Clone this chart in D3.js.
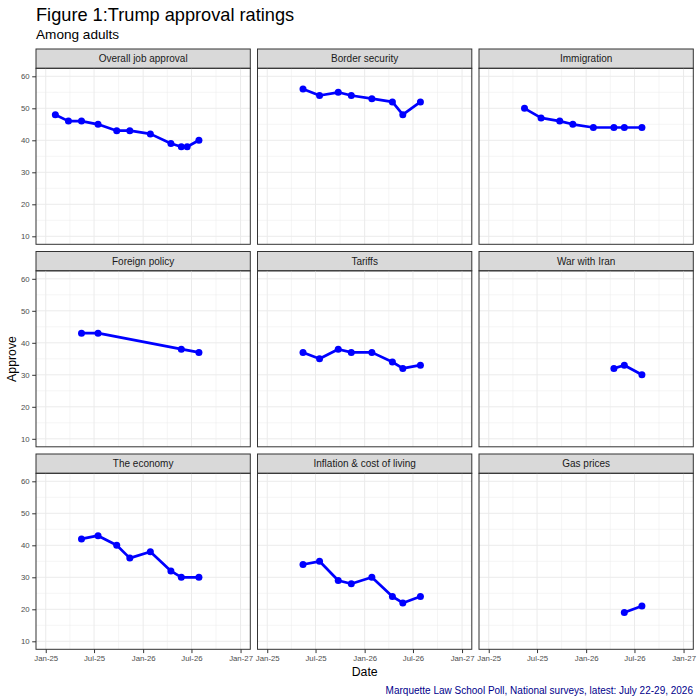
<!DOCTYPE html>
<html>
<head>
<meta charset="utf-8">
<script src="https://cdn.jsdelivr.net/npm/d3@7"></script>
<style>
  body { margin: 0; background: #fff; }
  text { font-family: "Liberation Sans", Arial, sans-serif; }
</style>
</head>
<body>
<div id="chart"></div>
<script>
const width = 700;
const height = 700;

// survey end dates (national surveys)
const surveyDates = [
  "2025-02-06", "2025-03-27", "2025-05-15", "2025-07-16", "2025-09-24",
  "2025-11-12", "2026-01-28", "2026-04-15", "2026-05-24", "2026-06-15",
  "2026-07-29"
];

const topics = [
  "Overall job approval", "Border security", "Immigration",
  "Foreign policy", "Tariffs", "War with Iran",
  "The economy", "Inflation & cost of living", "Gas prices"
];

// approve %, one per survey date (null = not asked)
const overall     = [48, 46, 46, 45, 43, 43, 42, 39, 38, 38, 40];
const border      = [null, null, 56, 54, 55, 54, 53, 52, 48, null, 52];
const immigration = [null, null, 50, 47, 46, 45, 44, 44, 44, null, 44];
const foreign     = [null, null, 43, 43, null, null, null, null, 38, null, 37];
const tariffs     = [null, null, 37, 35, 38, 37, 37, 34, 32, null, 33];
const iran        = [null, null, null, null, null, null, null, 32, 33, null, 30];
const economy     = [null, null, 42, 43, 40, 36, 38, 32, 30, null, 30];
const inflation   = [null, null, 34, 35, 29, 28, 30, 24, 22, null, 24];
const gas         = [null, null, null, null, null, null, null, null, 19, null, 21];

const seriesValues = [overall, border, immigration, foreign, tariffs, iran, economy, inflation, gas];

const xTickDates = ["2025-01-01", "2025-07-01", "2026-01-01", "2026-07-01", "2027-01-01"];
const yTicks = [10, 20, 30, 40, 50, 60];
const yMinor = [15, 25, 35, 45, 55];

const parse = d3.timeParse("%Y-%m-%d");
const fmt = d3.timeFormat("%b-%y");

// layout
const plotLeft = 36, plotTop = 49;
const panelW = 214.3, gap = 7.2;
const stripH = 19.3, panelH = 176;
const rowPitch = stripH + panelH + gap;

const svg = d3.select("#chart")
  .append("svg")
  .attr("width", width)
  .attr("height", height);

// scales, ggplot-style 5% expansion
const xLim = [parse(xTickDates[0]), parse(xTickDates[4])];
const xPad = (xLim[1] - xLim[0]) * 0.05;
const x = d3.scaleTime()
  .domain([new Date(+xLim[0] - xPad), new Date(+xLim[1] + xPad)])
  .range([0, panelW]);

const y = d3.scaleLinear()
  .domain([10 - 2.5, 60 + 2.5])
  .range([panelH, 0]);

const xMajor = xTickDates.map(parse);
const xMinorT = d3.pairs(xMajor).map(([a, b]) => new Date((+a + +b) / 2));

const line = d3.line()
  .x(d => x(d.date))
  .y(d => y(d.value));

topics.forEach((name, i) => {
  const col = i % 3, row = Math.floor(i / 3);
  const g = svg.append("g")
    .attr("transform", `translate(${plotLeft + col * (panelW + gap)},${plotTop + row * rowPitch})`);

  // strip
  g.append("rect")
    .attr("width", panelW).attr("height", stripH)
    .attr("fill", "#D9D9D9").attr("stroke", "#333333").attr("stroke-width", 1);
  g.append("text")
    .attr("x", panelW / 2).attr("y", stripH / 2 + 3.6)
    .attr("text-anchor", "middle")
    .attr("font-size", 10)
    .attr("fill", "#1A1A1A")
    .text(name);

  const p = g.append("g").attr("transform", `translate(0,${stripH})`);

  // grid
  p.selectAll(".ymin").data(yMinor).join("line")
    .attr("x1", 0).attr("x2", panelW)
    .attr("y1", d => y(d)).attr("y2", d => y(d))
    .attr("stroke", "#EBEBEB").attr("stroke-width", 0.5);
  p.selectAll(".xmin").data(xMinorT).join("line")
    .attr("y1", 0).attr("y2", panelH)
    .attr("x1", d => x(d)).attr("x2", d => x(d))
    .attr("stroke", "#EBEBEB").attr("stroke-width", 0.5);
  p.selectAll(".ymaj").data(yTicks).join("line")
    .attr("x1", 0).attr("x2", panelW)
    .attr("y1", d => y(d)).attr("y2", d => y(d))
    .attr("stroke", "#EBEBEB").attr("stroke-width", 1);
  p.selectAll(".xmaj").data(xMajor).join("line")
    .attr("y1", 0).attr("y2", panelH)
    .attr("x1", d => x(d)).attr("x2", d => x(d))
    .attr("stroke", "#EBEBEB").attr("stroke-width", 1);

  // data
  const pts = surveyDates
    .map((d, k) => ({ date: parse(d), value: seriesValues[i][k] }))
    .filter(d => d.value != null);

  p.append("path")
    .datum(pts)
    .attr("d", line)
    .attr("fill", "none")
    .attr("stroke", "#0000FF")
    .attr("stroke-width", 2.7)
    .attr("stroke-linejoin", "round");

  p.selectAll("circle").data(pts).join("circle")
    .attr("cx", d => x(d.date)).attr("cy", d => y(d.value))
    .attr("r", 3.5)
    .attr("fill", "#0000FF");

  // panel border
  p.append("rect")
    .attr("width", panelW).attr("height", panelH)
    .attr("fill", "none").attr("stroke", "#333333").attr("stroke-width", 1);

  // axes
  if (col === 0) {
    const ya = p.append("g")
      .call(d3.axisLeft(y).tickValues(yTicks).tickSize(3.8).tickPadding(2.5));
    ya.select(".domain").remove();
    ya.selectAll("line").attr("stroke", "#333333");
    ya.selectAll("text").attr("font-size", 7.8).attr("fill", "#4D4D4D")
      .attr("font-family", "Liberation Sans, Arial, sans-serif");
  }
  if (row === 2) {
    const xa = p.append("g")
      .attr("transform", `translate(0,${panelH})`)
      .call(d3.axisBottom(x).tickValues(xMajor).tickFormat(fmt).tickSize(3.8).tickPadding(2.5));
    xa.select(".domain").remove();
    xa.selectAll("line").attr("stroke", "#333333");
    xa.selectAll("text").attr("font-size", 7.8).attr("fill", "#4D4D4D")
      .attr("font-family", "Liberation Sans, Arial, sans-serif");
  }
});

// titles
svg.append("text")
  .attr("x", 36).attr("y", 21)
  .attr("font-size", 18.2).attr("fill", "#000")
  .text("Figure 1:Trump approval ratings");

svg.append("text")
  .attr("x", 36).attr("y", 39)
  .attr("font-size", 13.6).attr("fill", "#000")
  .text("Among adults");

svg.append("text")
  .attr("x", plotLeft + (3 * panelW + 2 * gap) / 2).attr("y", 676)
  .attr("text-anchor", "middle")
  .attr("font-size", 12.3).attr("fill", "#000")
  .text("Date");

svg.append("text")
  .attr("transform", `translate(16,359) rotate(-90)`)
  .attr("text-anchor", "middle")
  .attr("font-size", 12.3).attr("fill", "#000")
  .text("Approve");

svg.append("text")
  .attr("x", 693).attr("y", 693.5)
  .attr("text-anchor", "end")
  .attr("font-size", 10).attr("fill", "#00008B")
  .text("Marquette Law School Poll, National surveys, latest: July 22-29, 2026");
</script>
</body>
</html>
